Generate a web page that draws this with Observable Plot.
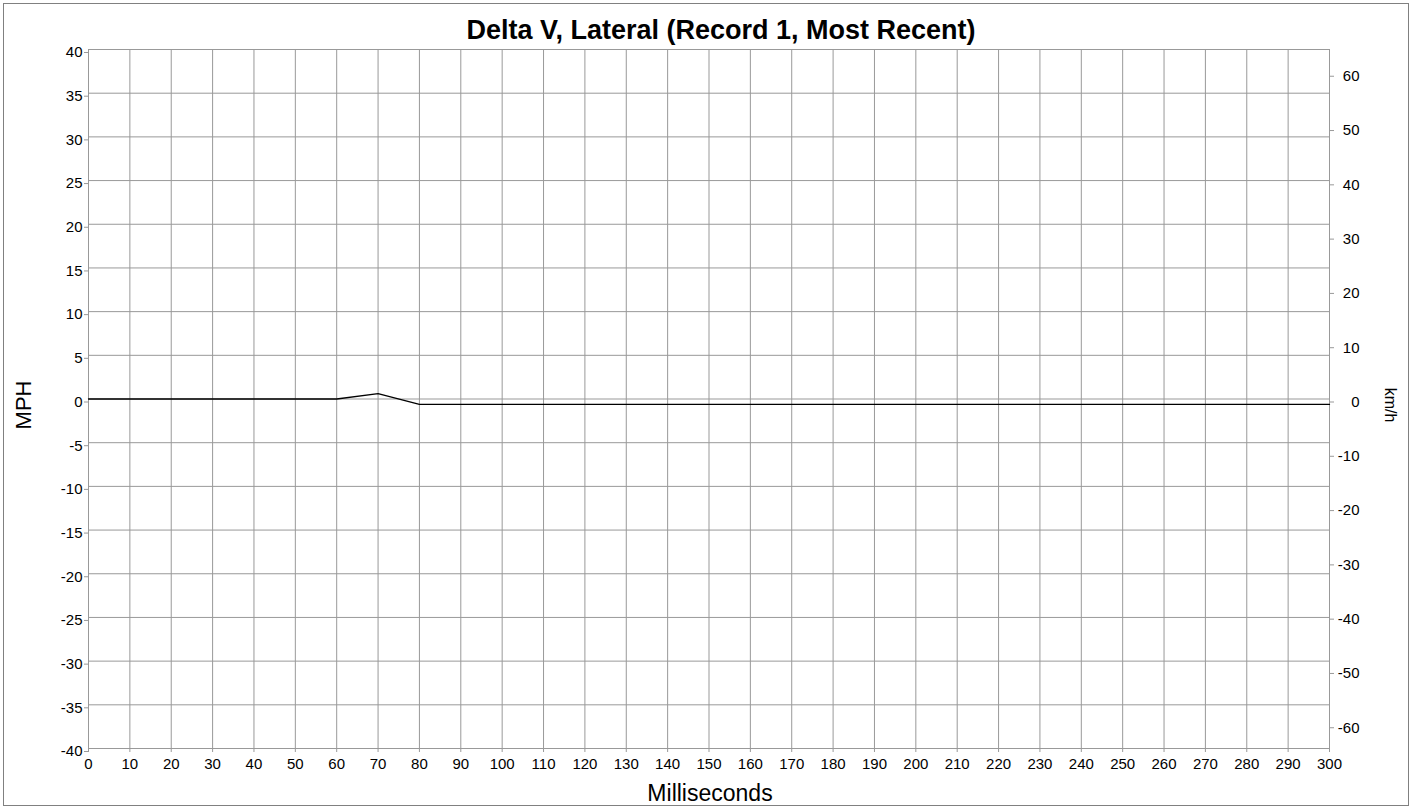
<!DOCTYPE html>
<html><head><meta charset="utf-8">
<script src="https://cdn.jsdelivr.net/npm/d3@7"></script>
<script src="https://cdn.jsdelivr.net/npm/@observablehq/plot@0.6"></script>
<style>
body{margin:0;background:#fff;}
#wrap{position:relative;width:1415px;height:807px;font-family:"Liberation Sans",Arial,sans-serif;color:#000;overflow:hidden;}
#border{position:absolute;left:3px;top:3px;width:1406px;height:803px;border:1px solid #808080;box-sizing:border-box;pointer-events:none;}
.lbl{position:absolute;white-space:nowrap;transform-origin:center center;line-height:1;}
#title{left:721px;top:30px;transform:translate(-50%,-50%);font-weight:bold;font-size:27px;}
#xlab{left:710px;top:793px;transform:translate(-50%,-50%);font-size:23px;}
#ylab{left:24px;top:405px;transform:translate(-50%,-50%) rotate(-90deg);font-size:22px;}
#y2lab{left:1390px;top:405px;transform:translate(-50%,-50%) rotate(90deg);font-size:16px;}
#chart{position:absolute;left:0;top:0;}
</style></head>
<body>
<div id="wrap">
  <div id="chart"></div>
  <div id="border"></div>
  <div class="lbl" id="title">Delta V, Lateral (Record 1, Most Recent)</div>
  <div class="lbl" id="xlab">Milliseconds</div>
  <div class="lbl" id="ylab">MPH</div>
  <div class="lbl" id="y2lab">km/h</div>
</div>
<script>
// Data
const milliseconds = [0,10,20,30,40,50,60,70,80,90,100,110,120,130,140,150,160,170,180,190,200,210,220,230,240,250,260,270,280,290,300];
const deltaVmph = [0,0,0,0,0,0,0,0.62,-0.62,-0.62,-0.62,-0.62,-0.62,-0.62,-0.62,-0.62,-0.62,-0.62,-0.62,-0.62,-0.62,-0.62,-0.62,-0.62,-0.62,-0.62,-0.62,-0.62,-0.62,-0.62,-0.62];
// Tick labels
const xTicks = [0,10,20,30,40,50,60,70,80,90,100,110,120,130,140,150,160,170,180,190,200,210,220,230,240,250,260,270,280,290,300];
const mphTicks = [-40,-35,-30,-25,-20,-15,-10,-5,0,5,10,15,20,25,30,35,40];
const kmhTicks = [-60,-50,-40,-30,-20,-10,0,10,20,30,40,50,60];
const KMH_PER_MPH = 1.609344;

const rows = milliseconds.map((t,i)=>({t, v: deltaVmph[i]}));

const chart = Plot.plot({
  width:1415, height:807,
  marginLeft:88, marginRight:86, marginTop:49, marginBottom:59,
  style:{fontFamily:"'Liberation Sans', Arial, sans-serif", fontSize:"15px", background:"transparent", color:"#000", overflow:"visible"},
  x:{domain:[0,300]},
  y:{domain:[-40,40]},
  marks:[
    Plot.gridX(xTicks,{stroke:"#999", strokeOpacity:1}),
    Plot.gridY(mphTicks,{stroke:"#999", strokeOpacity:1}),
    Plot.frame({stroke:"#999"}),
    Plot.axisX(xTicks,{anchor:"bottom", tickSize:4, tickPadding:6, stroke:"#999", fill:"#000", label:null, tickFormat:d=>String(d)}),
    Plot.axisY(mphTicks,{anchor:"left", tickSize:4, tickPadding:2, stroke:"#999", fill:"#000", dy:3, label:null, tickFormat:d=>String(d)}),
    Plot.axisY(kmhTicks.map(k=>k/KMH_PER_MPH),{anchor:"right", tickSize:4, tickPadding:26, textAnchor:"end", stroke:"#999", fill:"#000", dy:3, label:null, tickFormat:d=>String(Math.round(d*KMH_PER_MPH))}),
    Plot.line(rows,{x:"t", y:"v", stroke:"#000", strokeWidth:1.3})
  ]
});
document.getElementById("chart").append(chart);
</script>
</body></html>
